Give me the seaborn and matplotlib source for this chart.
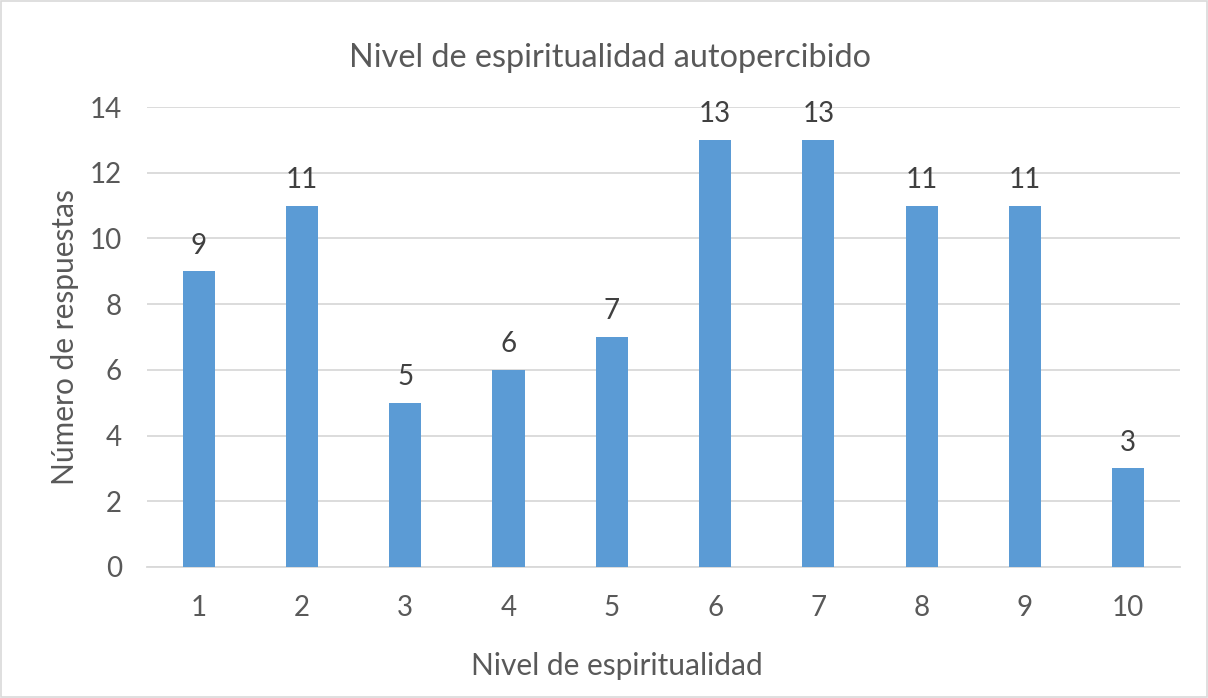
import matplotlib
matplotlib.use("Agg")
import matplotlib.pyplot as plt
import seaborn as sns
import pandas as pd

# Data
niveles = ["1", "2", "3", "4", "5", "6", "7", "8", "9", "10"]
respuestas = [9, 11, 5, 6, 7, 13, 13, 11, 11, 3]

df = pd.DataFrame({"nivel": niveles, "respuestas": respuestas})

sns.set_theme(style="white")
plt.rcParams["font.family"] = ["Lato", "DejaVu Sans"]

text_color = "#595959"
bar_color = "#5B9BD5"
grid_color = "#D9D9D9"

fig = plt.figure(figsize=(12.08, 6.98), dpi=100)
ax = fig.add_axes([0.1217, 0.1877, 0.855, 0.659])

sns.barplot(data=df, x="nivel", y="respuestas", color=bar_color,
            width=0.31, saturation=1, linewidth=0, ax=ax, zorder=3)

ax.set_ylim(0, 14)
ax.set_yticks(range(0, 15, 2))
ax.yaxis.grid(True, color=grid_color, linewidth=1.3, zorder=0)
ax.set_axisbelow(True)
for side in ["top", "right", "left"]:
    ax.spines[side].set_visible(False)
ax.spines["bottom"].set_color(grid_color)
ax.spines["bottom"].set_linewidth(1.3)

ax.tick_params(axis="both", length=0, labelsize=20, labelcolor=text_color)
ax.tick_params(axis="x", pad=20)
ax.tick_params(axis="y", pad=18)

for c in ax.containers:
    ax.bar_label(c, padding=9, fontsize=20, color="#404040")

ax.set_title("Nivel de espiritualidad autopercibido", fontsize=23.3,
             color=text_color, x=0.448, y=1.0, pad=29)
ax.set_xlabel("Nivel de espiritualidad", fontsize=21.5, color=text_color)
ax.xaxis.set_label_coords(0.455, -0.185)
ax.set_ylabel("Número de respuestas", fontsize=21.5, color=text_color)
ax.yaxis.set_label_coords(-0.066, 0.5)

border = plt.Rectangle((0.001, 0.001), 0.998, 0.998, transform=fig.transFigure,
                       fill=False, edgecolor="#D9D9D9", linewidth=1.2)
fig.patches.append(border)

fig.savefig("out.png", dpi=100, facecolor="white")
